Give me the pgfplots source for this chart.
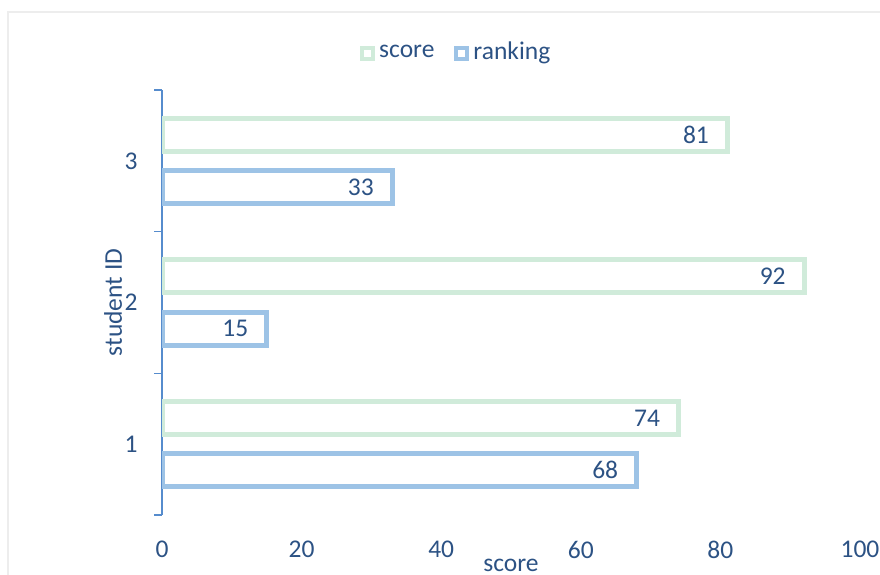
\documentclass[border=0pt]{standalone}
\usepackage{fontspec}
\setmainfont{Carlito}
\usepackage{pgfplots}
\pgfplotsset{compat=1.18}
\definecolor{scoreg}{RGB}{208,235,218}
\definecolor{rankb}{RGB}{157,195,230}
\definecolor{txtb}{RGB}{44,82,132}
\definecolor{axb}{RGB}{86,140,205}
\newcommand{\ff}{\fontsize{12.8}{15}\selectfont}
\begin{document}
\ff
\begin{tikzpicture}
\begin{axis}[
  at={(81bp,30bp)}, anchor=south west,
  scale only axis, width=349bp, height=212.5bp,
  xbar, xmin=0, xmax=100, ymin=0.5, ymax=3.5,
  /pgf/number format/assume math mode=true,
  axis lines*=left,
  x axis line style={draw=none},
  y axis line style={draw=axb, line width=0.8bp},
  xtick={0,20,...,100},
  xtick style={draw=none},
  ytick={0.5,1.5,2.5,3.5}, yticklabels={},
  ytick style={draw=axb, line width=0.8bp},
  extra y ticks={1,2,3}, extra y tick labels={1,2,3},
  extra y tick style={major tick length=0pt, ytick style={draw=none}},
  tick align=outside, major tick length=4bp,
  ticklabel style={text=txtb, font=\ff},
  xticklabel style={anchor=north, inner sep=0pt, yshift=-9bp},
  yticklabel style={anchor=east, inner sep=0pt},
  extra y tick style={yticklabel style={xshift=-12bp}},
  xlabel={score}, ylabel={student ID},
  label style={text=txtb, font=\ff},
  xlabel style={at={(axis description cs:0.5,-0.118)}, anchor=center},
  ylabel style={at={(axis description cs:-0.0702,0.5)}, anchor=center},
  bar width=0.233,
  point meta=x,
  nodes near coords={\pgfmathprintnumber[assume math mode=true]{\pgfplotspointmeta}},
  nodes near coords style={anchor=east, inner sep=0pt, xshift=-8bp, text=txtb, font=\ff},
  legend columns=2,
  legend style={draw=none, fill=none, at={(axis description cs:0.423,1.087)}, anchor=center,
    font=\ff, text=txtb,
    /tikz/every even column/.append style={column sep=8bp}},
  legend image code/.code={\draw[#1, line width=2bp, fill=white] (0bp,-2.75bp) rectangle (5.5bp,2.75bp);},
]
\addplot[draw=scoreg, fill=white, line width=2.5bp, bar shift=0.184] coordinates {(74,1) (92,2) (81,3)};
\addplot[draw=rankb, fill=white, line width=2.5bp, bar shift=-0.184] coordinates {(68,1) (15,2) (33,3)};
\legend{score, ranking}
\end{axis}
\draw[black!7, line width=1bp] (4bp,0) -- (4bp,281.5bp) -- (440bp,281.5bp);
\pgfresetboundingbox
\useasboundingbox (0,0) rectangle (440bp,287.5bp);
\end{tikzpicture}
\end{document}
